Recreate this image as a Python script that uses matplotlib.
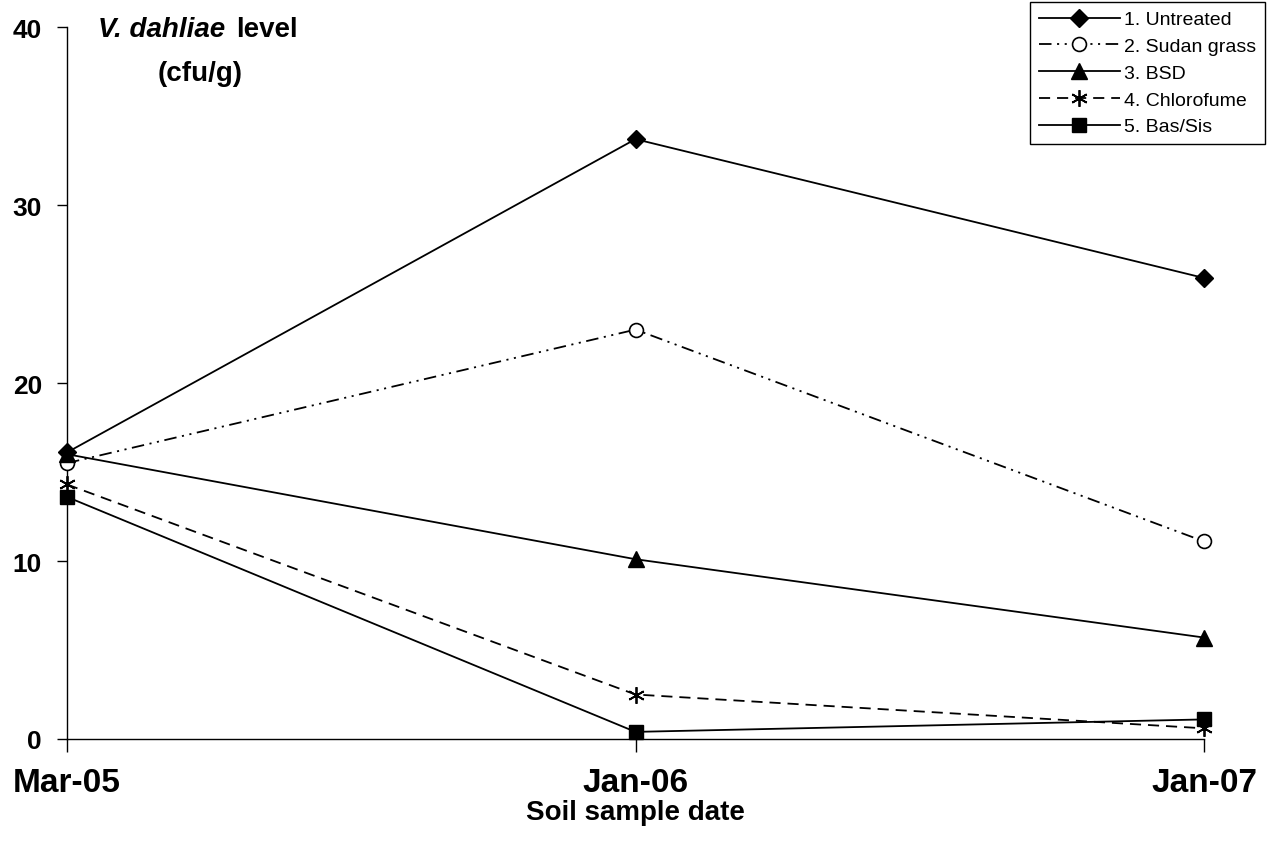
import matplotlib
matplotlib.use('Agg')
import matplotlib.pyplot as plt

# ---- data ----
dates = ['Mar-05', 'Jan-06', 'Jan-07']
untreated = [16.1, 33.7, 25.9]
sudan_grass = [15.5, 23.0, 11.1]
bsd = [16.0, 10.1, 5.7]
chlorofume = [14.3, 2.5, 0.6]
bas_sis = [13.6, 0.4, 1.1]
series_names = ['1. Untreated', '2. Sudan grass', '3. BSD', '4. Chlorofume', '5. Bas/Sis']
y_ticks = [0, 10, 20, 30, 40]

plt.rcParams['font.family'] = ['Liberation Sans', 'DejaVu Sans']
plt.rcParams['lines.scale_dashes'] = False

W, H = 1271, 853
fig = plt.figure(figsize=(W / 100, H / 100), dpi=100)
ax = fig.add_axes([67 / W, 1 - 740 / H, (1204 - 67) / W, (740 - 28) / H])

x = list(range(len(dates)))
lw = 1.3
common = dict(color='black', linewidth=lw, clip_on=False, zorder=3)

ax.plot(x, untreated, marker='D', markersize=9.5, markerfacecolor='black',
        linestyle='-', label=series_names[0], **common)
ax.plot(x, sudan_grass, marker='o', markersize=10, markerfacecolor='white',
        markeredgecolor='black', markeredgewidth=1.2,
        linestyle=(0, (9, 4, 1.5, 4, 1.5, 4)), label=series_names[1], **common)
ax.plot(x, bsd, marker='^', markersize=11, markerfacecolor='black',
        linestyle='-', label=series_names[2], **common)
ax.plot(x, chlorofume, marker=(6, 2, 0), markersize=12, markeredgewidth=1.3,
        linestyle=(0, (8, 5)), label=series_names[3], **common)
ax.plot(x, bas_sis, marker='s', markersize=9.5, markerfacecolor='black',
        linestyle='-', label=series_names[4], **common)

ax.set_xlim(0, len(dates) - 1)
ax.set_ylim(0, 40)
ax.set_xticks(x)
ax.set_xticklabels(dates, fontsize=24, fontweight='bold')
ax.set_yticks(y_ticks)
ax.set_yticklabels([str(v) for v in y_ticks], fontsize=19, fontweight='bold')

for s in ['top', 'right']:
    ax.spines[s].set_visible(False)
for s in ['left', 'bottom']:
    ax.spines[s].set_linewidth(1.0)
    ax.spines[s].set_color('black')

ax.tick_params(axis='y', direction='out', length=7, width=1.0, pad=11)
ax.tick_params(axis='x', direction='out', length=9, width=1.0, pad=11)

ax.set_xlabel('Soil sample date', fontsize=20, fontweight='bold', labelpad=1)

# y-axis title placed inside the plot area, top-left
fig.text(225 / W, 1 - 30 / H, 'V. dahliae', fontsize=20, fontweight='bold',
         fontstyle='italic', ha='right', va='center')
fig.text(236 / W, 1 - 30 / H, 'level', fontsize=20, fontweight='bold',
         ha='left', va='center')
fig.text(200 / W, 1 - 74 / H, '(cfu/g)', fontsize=20, fontweight='bold',
         ha='center', va='center')

leg = ax.legend(loc='upper right', bbox_to_anchor=(1265 / W, 1 - 3 / H),
                bbox_transform=fig.transFigure, borderaxespad=0,
                fontsize=14, frameon=True, fancybox=False, framealpha=1,
                edgecolor='black', handlelength=4.2, handletextpad=0.2,
                labelspacing=0.47, borderpad=0.45)
leg.get_frame().set_linewidth(1.0)

fig.savefig('out.png', dpi=100)
